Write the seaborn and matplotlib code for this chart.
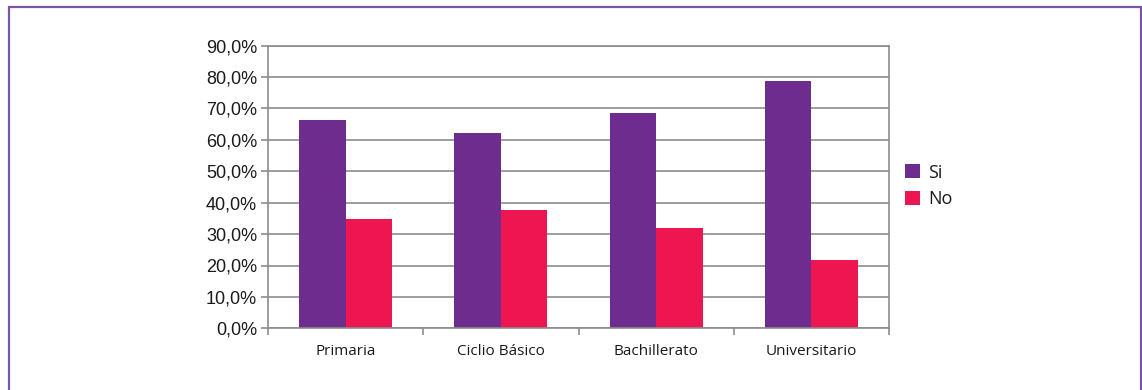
import matplotlib
matplotlib.use("Agg")
import matplotlib.pyplot as plt
import matplotlib.ticker as mticker
from matplotlib.patches import Rectangle
import seaborn as sns
import pandas as pd

categories = ["Primaria", "Ciclio Básico", "Bachillerato", "Universitario"]
si_values = [66.3, 62.1, 68.6, 78.8]
no_values = [34.8, 37.7, 31.9, 21.8]
series_names = ["Si", "No"]
colors = ["#6D2C8E", "#EE1651"]

df = pd.DataFrame({
    "categoria": categories * 2,
    "serie": [series_names[0]] * 4 + [series_names[1]] * 4,
    "valor": si_values + no_values,
})

sns.set_theme(style="white")
plt.rcParams["font.family"] = ["Open Sans", "DejaVu Sans"]

W, H = 1142, 390
fig = plt.figure(figsize=(W / 100, H / 100), dpi=100)
ax = fig.add_axes([268.3 / W, 1 - 328.3 / H, (888.7 - 268.3) / W, (328.3 - 45.7) / H])

sns.barplot(data=df, x="categoria", y="valor", hue="serie", order=categories,
            hue_order=series_names, palette=colors, width=0.6, gap=0,
            saturation=1, linewidth=0, ax=ax, legend=True)

grid_c = "#8c8c8c"
ax.set_ylim(0, 90)
ax.set_xlim(-0.5, 3.5)
ax.yaxis.set_major_locator(mticker.MultipleLocator(10))
ax.yaxis.set_major_formatter(mticker.FuncFormatter(lambda v, p: f"{v:.1f}".replace(".", ",") + "%"))
ax.grid(axis="y", color=grid_c, linewidth=1.2)
ax.set_axisbelow(True)
for s in ax.spines.values():
    s.set_color(grid_c)
    s.set_linewidth(1.2)
ax.set_xlabel("")
ax.set_ylabel("")

ax.set_xticks([-0.5, 0.5, 1.5, 2.5, 3.5], minor=True)
ax.tick_params(axis="x", which="minor", length=5, width=1.2, color=grid_c, direction="out", bottom=True)
ax.tick_params(axis="x", which="major", length=0, pad=11, labelsize=11, labelcolor="#1a1a1a")
ax.tick_params(axis="y", which="major", length=5, width=1.2, color=grid_c, direction="out", left=True,
               pad=3, labelsize=13, labelcolor="#1a1a1a")
for lab in ax.get_yticklabels():
    lab.set_fontfamily(["Liberation Sans", "DejaVu Sans"])

handles, labels = ax.get_legend_handles_labels()
ax.legend_.remove()
fig.legend(handles, labels, loc="center left", bbox_to_anchor=(889 / W, 1 - 186 / H),
           frameon=False, fontsize=13, handlelength=0.8, handleheight=0.8,
           handletextpad=0.45, labelspacing=0.48, labelcolor="#1a1a1a")

fig.patches.append(Rectangle((8.5 / W, -0.1), (1140.5 - 8.5) / W, 0.1 + 1 - 7 / H,
                             transform=fig.transFigure, fill=False,
                             edgecolor="#7B55A8", linewidth=1.6, clip_on=False))

fig.savefig("out.png", dpi=100, facecolor="white")
